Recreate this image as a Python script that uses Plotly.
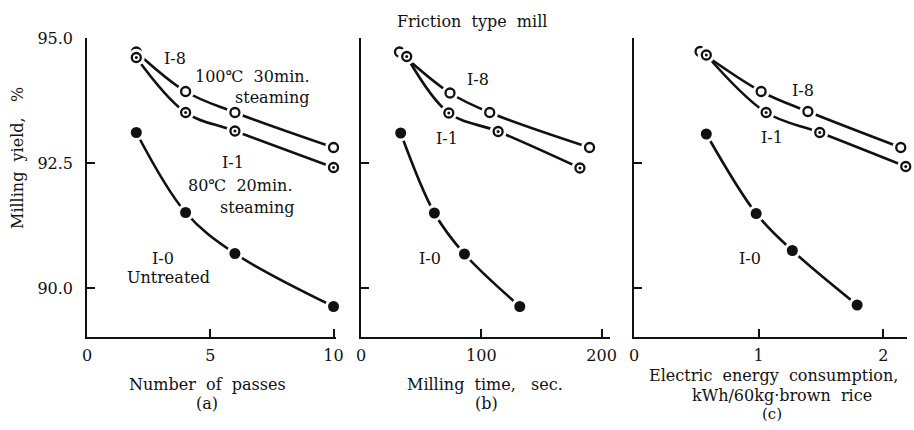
import plotly.graph_objects as go

# ---------------- data ----------------
# (a) Number of passes
a_x = [2, 4, 6, 10]
a_I8 = [94.72, 93.93, 93.51, 92.81]
a_I1 = [94.61, 93.51, 93.14, 92.41]
a_I0 = [93.11, 91.51, 90.69, 89.63]

# (b) Milling time, sec.
b_x_I8 = [32, 74, 107, 190]
b_I8 = [94.72, 93.90, 93.51, 92.81]
b_x_I1 = [38, 73, 114, 182]
b_I1 = [94.63, 93.50, 93.13, 92.40]
b_x_I0 = [33, 61, 86, 132]
b_I0 = [93.10, 91.50, 90.68, 89.63]

# (c) Electric energy consumption
c_x_I8 = [0.53, 1.02, 1.395, 2.14]
c_I8 = [94.73, 93.93, 93.53, 92.81]
c_x_I1 = [0.58, 1.06, 1.49, 2.18]
c_I1 = [94.66, 93.51, 93.11, 92.43]
c_x_I0 = [0.58, 0.98, 1.27, 1.79]
c_I0 = [93.08, 91.49, 90.75, 89.66]

y_ticks = [90.0, 92.5, 95.0]
y_ticklabels = ["90.0", "92.5", "95.0"]
a_ticks = [0, 5, 10]
b_ticks = [0, 100, 200]
c_ticks = [0, 1, 2]

W, H = 914, 430
FONT = "DejaVu Serif"
INK = "#111111"

fig = go.Figure()

def add_series(xs, ys, xa, ya, kind):
    fig.add_trace(go.Scatter(x=xs, y=ys, xaxis=xa, yaxis=ya, mode="lines",
                             line=dict(color=INK, width=2.6, shape="spline", smoothing=1.0),
                             hoverinfo="skip", showlegend=False, cliponaxis=False))
    fig.add_trace(go.Scatter(x=xs, y=ys, xaxis=xa, yaxis=ya, mode="markers",
                             marker=dict(symbol="circle", size=17, color="white", line=dict(width=0)),
                             hoverinfo="skip", showlegend=False, cliponaxis=False))
    if kind == "filled":
        fig.add_trace(go.Scatter(x=xs, y=ys, xaxis=xa, yaxis=ya, mode="markers",
                                 marker=dict(symbol="circle", size=11, color=INK, line=dict(width=0)),
                                 showlegend=False, cliponaxis=False))
    else:
        fig.add_trace(go.Scatter(x=xs, y=ys, xaxis=xa, yaxis=ya, mode="markers",
                                 marker=dict(symbol="circle", size=9, color="white",
                                             line=dict(width=2.3, color=INK)),
                                 showlegend=False, cliponaxis=False))
        if kind == "dot":
            fig.add_trace(go.Scatter(x=xs, y=ys, xaxis=xa, yaxis=ya, mode="markers",
                                     marker=dict(symbol="circle", size=3, color=INK, line=dict(width=0)),
                                     showlegend=False, cliponaxis=False))

add_series(a_x, a_I8, "x", "y", "open")
add_series(a_x, a_I1, "x", "y", "dot")
add_series(a_x, a_I0, "x", "y", "filled")
add_series(b_x_I8, b_I8, "x2", "y2", "open")
add_series(b_x_I1, b_I1, "x2", "y2", "dot")
add_series(b_x_I0, b_I0, "x2", "y2", "filled")
add_series(c_x_I8, c_I8, "x3", "y3", "open")
add_series(c_x_I1, c_I1, "x3", "y3", "dot")
add_series(c_x_I0, c_I0, "x3", "y3", "filled")

def px_x(p):
    return p / W

def px_y(p):
    return 1 - p / H

ydom = [px_y(337), px_y(38)]
xdoms = [[px_x(87), px_x(336)], [px_x(361), px_x(610)], [px_x(634), px_x(907)]]
xranges = [[0, 10.1], [0, 207], [0, 2.19]]
xtickss = [a_ticks, b_ticks, c_ticks]
yrange = [89.02, 95.0]

axis_common = dict(showline=True, linecolor=INK, linewidth=1.6, showgrid=False, zeroline=False,
                   ticks="inside", ticklen=8, tickwidth=1.6, tickcolor=INK,
                   tickfont=dict(family=FONT, size=16, color=INK), mirror=False,
                   automargin=False)

layout = dict(width=W, height=H, margin=dict(l=0, r=0, t=0, b=0),
              paper_bgcolor="white", plot_bgcolor="white", showlegend=False)

for i in range(3):
    sfx = "" if i == 0 else str(i + 1)
    layout["xaxis" + sfx] = dict(axis_common, domain=xdoms[i], range=xranges[i],
                                 tickmode="array", tickvals=xtickss[i],
                                 ticktext=[str(t) for t in xtickss[i]],
                                 anchor="y" + sfx, ticklabelstandoff=3)
    layout["yaxis" + sfx] = dict(axis_common, domain=ydom, range=yrange,
                                 tickmode="array", tickvals=y_ticks,
                                 ticktext=y_ticklabels if i == 0 else ["", "", ""],
                                 showticklabels=(i == 0),
                                 anchor="x" + sfx, ticklabelstandoff=9)

fig.update_layout(**layout)

texts = [
    ("I-8", 175, 58, 16),
    ("100\u2103  30min.", 252, 77, 16),
    ("steaming", 272, 97, 16),
    ("I-1", 233, 163, 16),
    ("80\u2103  20min.", 240, 185, 16),
    ("steaming", 257, 207, 16),
    ("I-0", 163, 258, 16),
    ("Untreated", 168, 277, 16),
    ("I-8", 478, 79, 16),
    ("I-1", 447, 138, 16),
    ("I-0", 430, 258, 16),
    ("I-8", 803, 90, 16),
    ("I-1", 772, 137, 16),
    ("I-0", 750, 258, 16),
    ("Friction  type  mill", 472, 22, 16),
    ("Number  of  passes", 207, 384, 16),
    ("(a)", 207, 403, 16),
    ("Milling  time,   sec.", 485, 384, 16),
    ("(b)", 487, 403, 16),
    ("Electric  energy  consumption,", 773, 375, 16),
    ("kWh/60kg\u00b7brown  rice", 782, 395, 16),
    ("(c)", 772, 414, 15),
]
for t, x, y, s in texts:
    fig.add_annotation(text=t, x=px_x(x), y=px_y(y), xref="paper", yref="paper",
                       showarrow=False, xanchor="center", yanchor="middle",
                       font=dict(family=FONT, size=s, color=INK))

fig.add_annotation(text="Milling  yield,   %", x=px_x(17), y=px_y(158), xref="paper", yref="paper",
                   showarrow=False, textangle=-90, xanchor="center", yanchor="middle",
                   font=dict(family=FONT, size=16, color=INK))

fig.write_html("out.html", config={"displayModeBar": False},
               post_script="document.body.style.margin='0';document.body.style.overflow='hidden';")
